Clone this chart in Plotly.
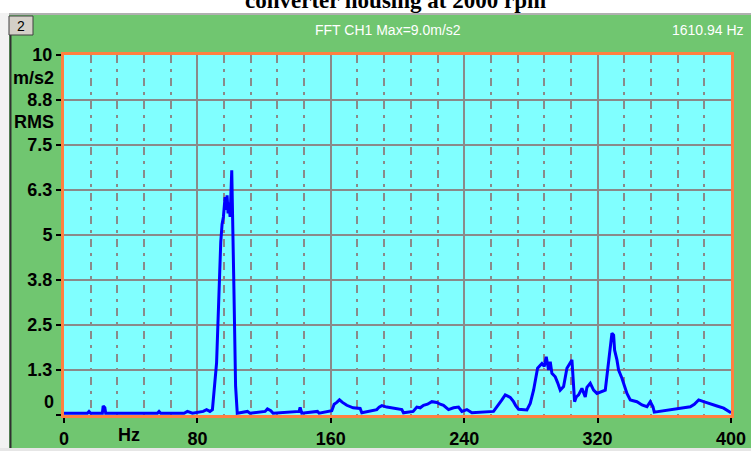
import plotly.graph_objects as go

# ---------------- data ----------------
freq_hz = (
    [0, 14, 15, 16, 23, 23.5, 24.5, 25, 56, 57, 58, 72, 74, 77, 83.5, 85.5, 87.5, 89]
    + [91.5, 93.2, 94.0, 94.8, 95.6, 96.6, 97.2, 97.8, 98.4, 99.0, 99.6, 100.0, 100.6, 101.9, 102.9, 103.9]
    + [110, 111.5, 120.6, 122, 124, 125.4, 141, 141.6, 142.6, 152, 153, 160.6, 162, 163.6, 165.2, 167,
       169.6, 173.4, 177.6, 178.6, 187.6, 189, 190.6, 193.6, 197.6, 202.6, 203.6, 209.4, 211.6, 213.6,
       215.6, 218, 220.6, 223.6, 225.6, 227.6, 230.6, 233.6, 236.6, 238.6, 241.6, 244.6]
    + [257.6, 260.6, 262.6, 264.6, 267.6, 269.6, 271, 272.6, 277.6, 279.6, 281.6, 284, 286.6, 288,
       289.2, 290.6, 291.6, 292.6, 294.6, 296, 297.6, 299.6, 301.6, 304.6, 306.2, 307.2, 308.6, 310.6,
       312.6, 313.6, 315.6, 317.6, 319.6, 324.6, 325.6, 327.2, 328.6, 329.6, 330.2, 331.6, 332.6, 334.6,
       336, 337.6, 339.6, 343.6, 346.6, 349.6, 351.6, 353.2, 354, 375.6, 378, 380.6, 383.6, 387.6,
       391.6, 395.6, 399.2, 400]
)
amp_rms = (
    [0.05, 0.05, 0.1, 0.05, 0.05, 0.25, 0.2, 0.05, 0.05, 0.1, 0.05, 0.05, 0.1, 0.05, 0.1, 0.15, 0.1, 0.15]
    + [1.45, 3.75, 4.8, 5.3, 5.5, 6.05, 5.7, 6.1, 5.6, 5.9, 5.5, 6.0, 6.8, 3.5, 0.8, 0.05]
    + [0.1, 0.05, 0.1, 0.17, 0.12, 0.05, 0.1, 0.21, 0.05, 0.1, 0.05, 0.12, 0.3, 0.35, 0.42, 0.35,
       0.27, 0.2, 0.18, 0.06, 0.15, 0.22, 0.26, 0.22, 0.18, 0.15, 0.06, 0.1, 0.22, 0.2,
       0.27, 0.3, 0.37, 0.35, 0.3, 0.27, 0.15, 0.2, 0.22, 0.1, 0.15, 0.06]
    + [0.1, 0.28, 0.42, 0.56, 0.49, 0.37, 0.25, 0.16, 0.14, 0.32, 0.69, 1.3, 1.43, 1.35,
       1.62, 1.25, 1.48, 1.16, 1.06, 0.9, 0.69, 0.79, 1.3, 1.53, 0.37, 0.5, 0.56, 0.74,
       0.5, 0.77, 0.88, 0.69, 0.6, 0.69, 1.06, 1.71, 2.27, 2.22, 1.8, 1.53, 1.25, 1.02,
       0.79, 0.6, 0.42, 0.37, 0.28, 0.23, 0.37, 0.23, 0.08, 0.23, 0.3, 0.42, 0.37, 0.3,
       0.25, 0.19, 0.08, 0.06]
)
assert len(freq_hz) == len(amp_rms)

ytick_vals = [0, 1.25, 2.5, 3.75, 5, 6.25, 7.5, 8.75, 10]
ytick_text = ["0", "1.3", "2.5", "3.8", "5", "6.3", "7.5", "8.8", "10"]
xtick_vals = [0, 80, 160, 240, 320, 400]
xtick_text = ["0", "80", "160", "240", "320", "400"]

title_text = "converter housing at 2000 rpm"
header_text = "FFT CH1 Max=9.0m/s2"
rate_text = "1610.94 Hz"
panel_no = "2"
x_unit = "Hz"
y_unit = ["m/s2", "RMS"]

# ---------------- layout helpers ----------------
W, H = 751, 451
L, R, T, B = 64, 20, 55, 36
PW, PH = W - L - R, H - T - B


def px(x):
    return (x - L) / PW


def py(y):
    return (H - B - y) / PH


GREEN = "#70C670"
CYAN = "#80FFFF"
ORANGE = "#FF8040"
GRID = "#8A8A8A"
TICKFONT = dict(family="Liberation Sans, Arial, sans-serif", size=18, color="black", weight="bold")
SMALLFONT = dict(family="Liberation Sans, Arial, sans-serif", size=14, color="white")

fig = go.Figure()
fig.add_trace(go.Scatter(x=freq_hz, y=amp_rms, mode="lines",
                         line=dict(color="#0000FF", width=3), hoverinfo="skip"))

shapes = [
    # light frame around the green panel
    dict(type="rect", xref="paper", yref="paper", x0=px(0), x1=px(9), y0=py(451), y1=py(0),
         fillcolor="#F2F2F2", line=dict(width=0), layer="above"),
    dict(type="rect", xref="paper", yref="paper", x0=px(0), x1=px(751), y0=py(451), y1=py(448),
         fillcolor="#E6E6E6", line=dict(width=0), layer="above"),
    dict(type="rect", xref="paper", yref="paper", x0=px(0), x1=px(751), y0=py(13), y1=py(0),
         fillcolor="#FFFFFF", line=dict(width=0), layer="above"),
    dict(type="line", xref="paper", yref="paper", x0=px(9), x1=px(751), y0=py(14), y1=py(14),
         line=dict(color="#B0B0B0", width=2), layer="above"),
    dict(type="line", xref="paper", yref="paper", x0=px(10.5), x1=px(10.5), y0=py(35), y1=py(448),
         line=dict(color="#303030", width=2), layer="above"),
    # channel number box
    dict(type="rect", xref="paper", yref="paper", x0=px(9), x1=px(33), y0=py(35), y1=py(16),
         fillcolor="#D4D0C8", line=dict(color="#404040", width=1), layer="above"),
]

annotations = [
    dict(text=title_text, xref="paper", yref="paper", x=px(395), y=py(15), xanchor="center",
         yanchor="bottom", showarrow=False,
         font=dict(family="Liberation Serif, Times New Roman, serif", size=23, color="black", weight="bold")),
    dict(text=panel_no, xref="paper", yref="paper", x=px(21), y=py(26), showarrow=False,
         xanchor="center", yanchor="middle",
         font=dict(family="Liberation Sans, Arial, sans-serif", size=14, color="black")),
    dict(text=header_text, xref="paper", yref="paper", x=px(388), y=py(30), showarrow=False,
         xanchor="center", yanchor="middle", font=SMALLFONT),
    dict(text=rate_text, xref="paper", yref="paper", x=px(746), y=py(30), showarrow=False,
         xanchor="right", yanchor="middle", font=SMALLFONT),
    dict(text=y_unit[0], xref="paper", yref="paper", x=px(56), y=py(78), showarrow=False,
         xanchor="right", yanchor="middle", font=TICKFONT),
    dict(text=y_unit[1], xref="paper", yref="paper", x=px(56), y=py(122), showarrow=False,
         xanchor="right", yanchor="middle", font=TICKFONT),
    dict(text=ytick_text[0], xref="paper", yref="paper", x=px(56), y=py(402), showarrow=False,
         xanchor="right", yanchor="middle", font=TICKFONT),
    dict(text=x_unit, xref="paper", yref="paper", x=px(129), y=py(435), showarrow=False,
         xanchor="center", yanchor="middle", font=TICKFONT),
]

fig.update_layout(
    width=W, height=H,
    margin=dict(l=L, r=R, t=T, b=B, pad=0, autoexpand=False),
    paper_bgcolor=GREEN, plot_bgcolor=CYAN,
    showlegend=False,
    shapes=shapes, annotations=annotations,
    xaxis=dict(range=[0, 400], tickvals=xtick_vals, ticktext=xtick_text, tickfont=TICKFONT,
               ticks="outside", ticklen=5, tickwidth=2, tickcolor="black", automargin=False,
               showgrid=True, gridcolor=GRID, gridwidth=2,
               minor=dict(dtick=16, tick0=0, showgrid=True, gridcolor=GRID, gridwidth=2,
                          griddash="8px,6px,3px,6px", ticks=""),
               showline=True, linecolor=ORANGE, linewidth=3, mirror=True, zeroline=False,
               fixedrange=True),
    yaxis=dict(range=[0, 10], tickvals=ytick_vals, ticktext=[""] + ytick_text[1:], tickfont=TICKFONT,
               ticks="outside", ticklen=5, tickwidth=2, tickcolor="black", automargin=False,
               showgrid=True, gridcolor=GRID, gridwidth=2,
               showline=True, linecolor=ORANGE, linewidth=3, mirror=True, zeroline=False,
               fixedrange=True),
)

fig.write_html("out.html", config={"displayModeBar": False},
               post_script="document.body.style.margin='0';document.body.style.overflow='hidden';")
